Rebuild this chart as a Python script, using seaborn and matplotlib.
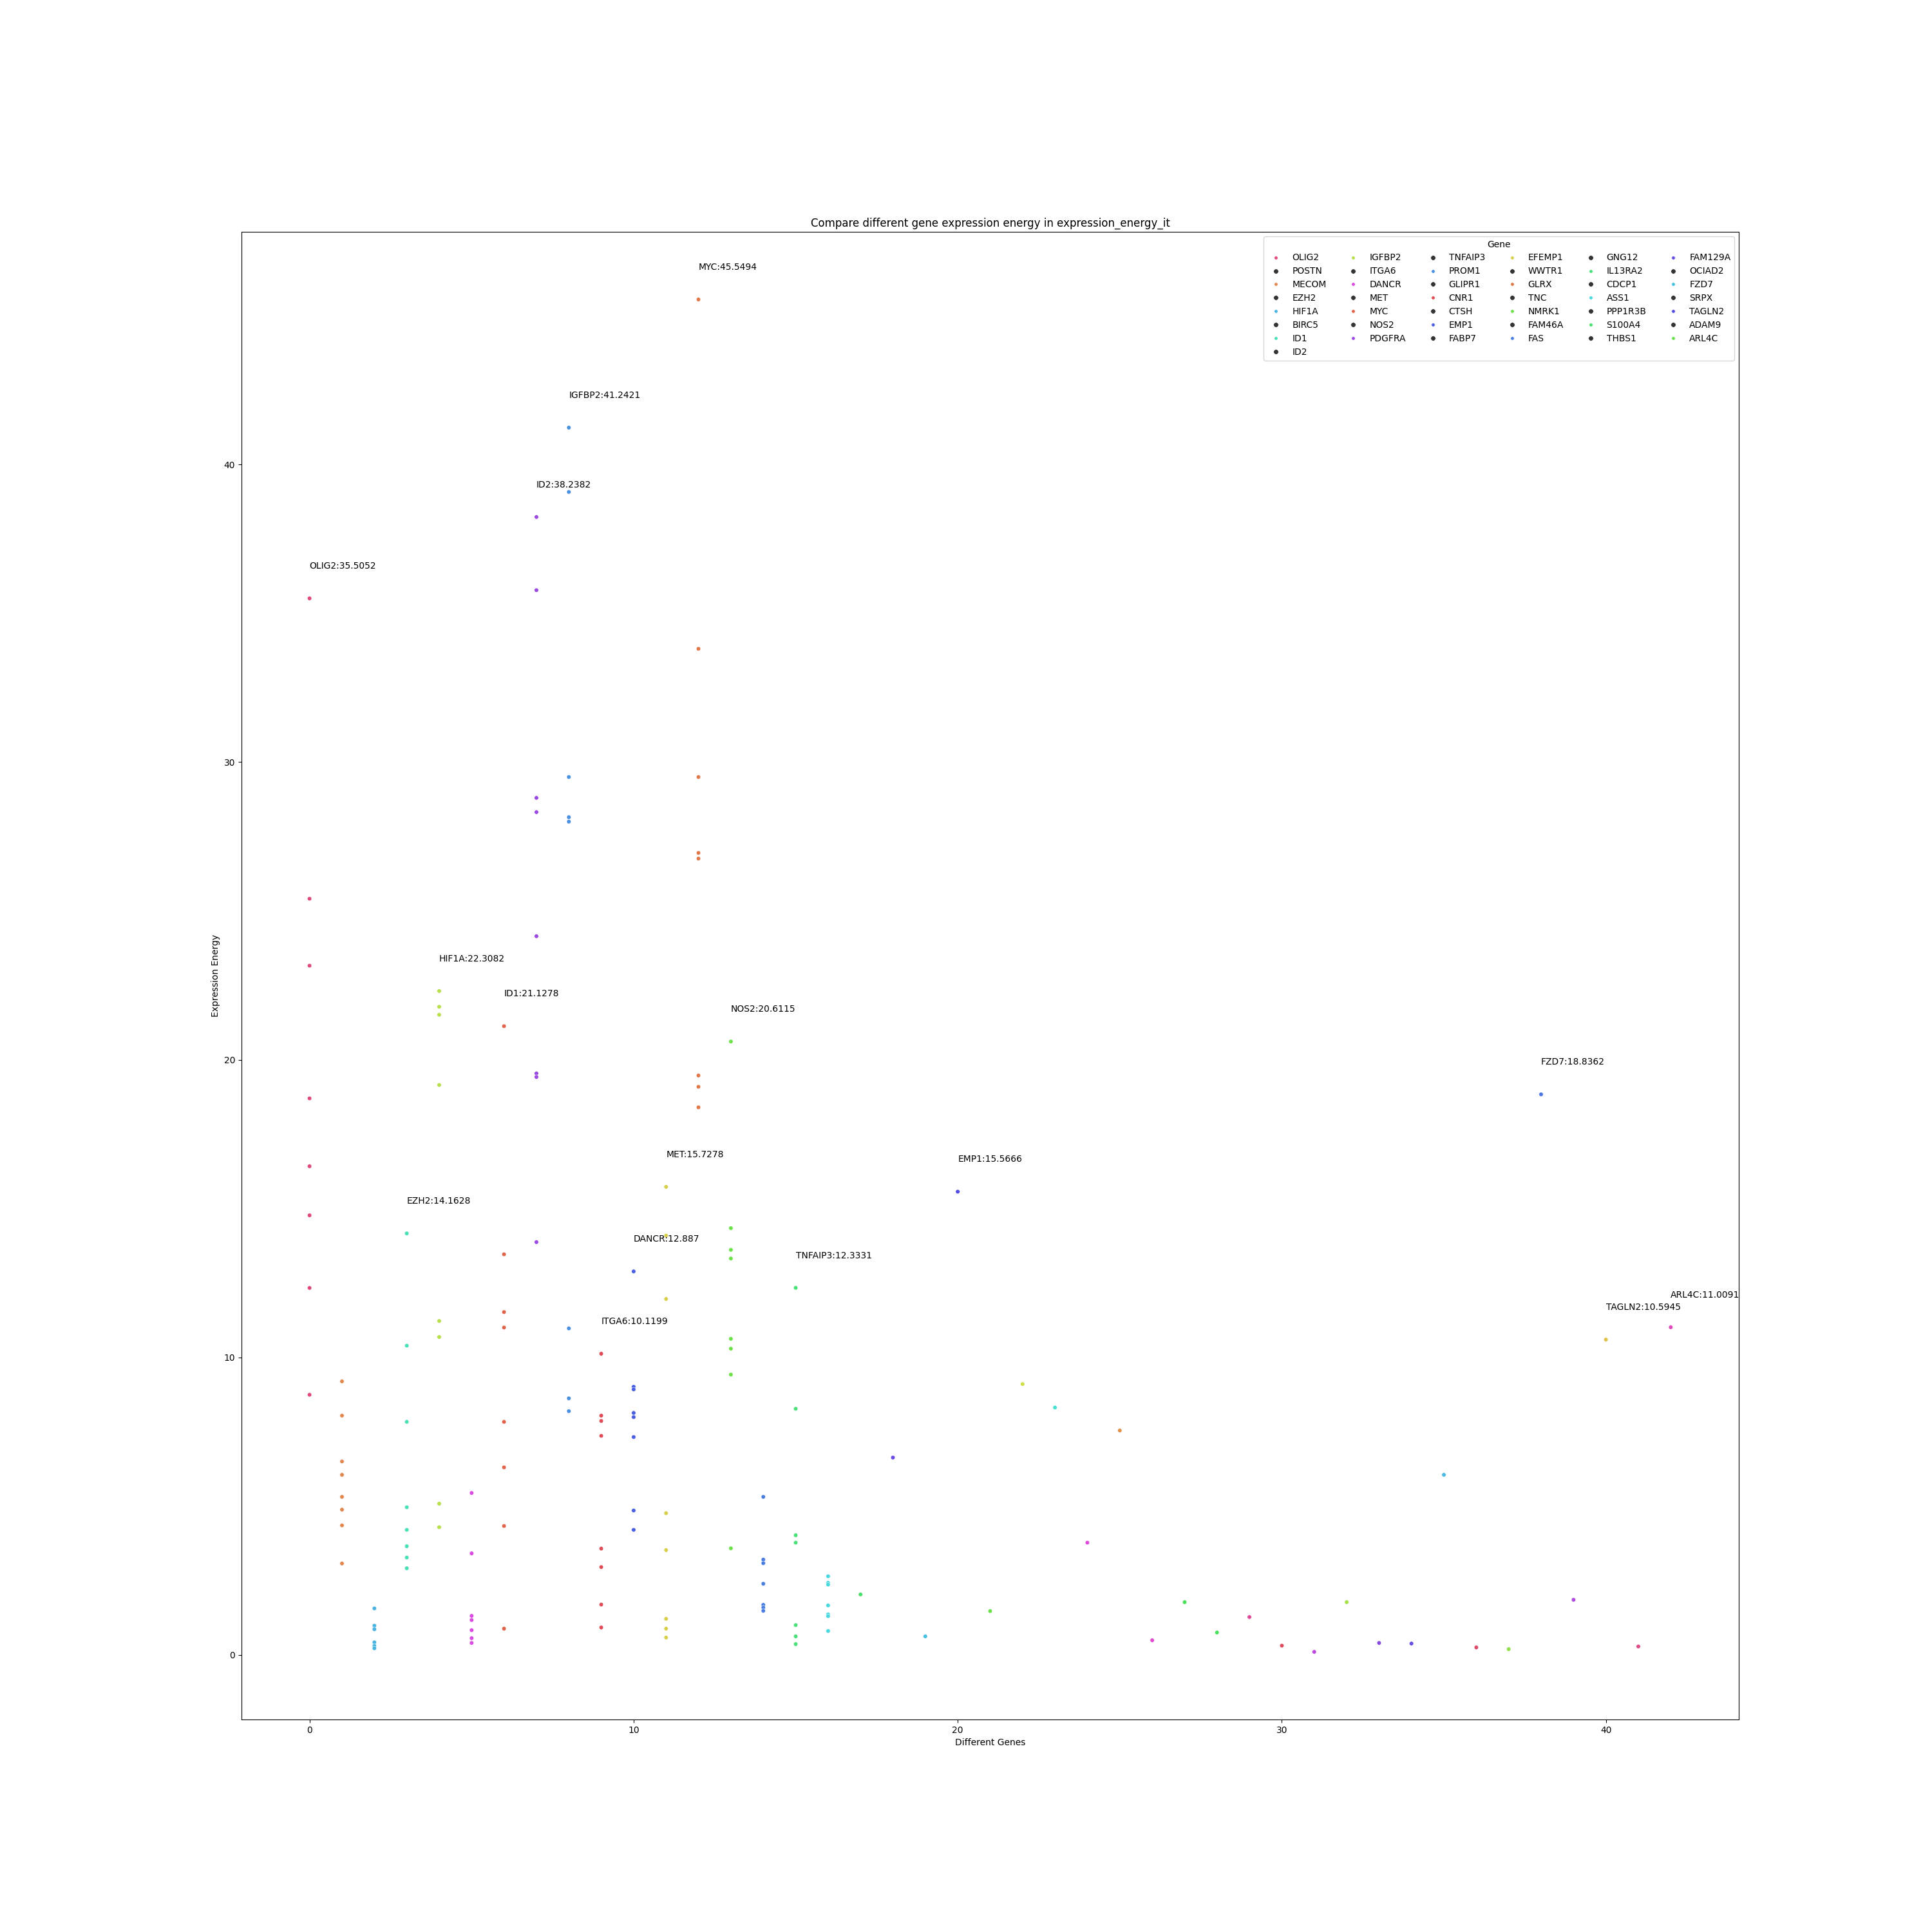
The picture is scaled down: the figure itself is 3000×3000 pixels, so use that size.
import matplotlib
matplotlib.use("Agg")
import matplotlib.pyplot as plt
import numpy as np
import pandas as pd
import seaborn as sns
from matplotlib.lines import Line2D

# gene order on the x axis
genes = ["OLIG2", "POSTN", "MECOM", "EZH2", "HIF1A", "BIRC5", "ID1", "ID2",
         "IGFBP2", "ITGA6", "DANCR", "MET", "MYC", "NOS2", "PDGFRA", "TNFAIP3",
         "PROM1", "GLIPR1", "CNR1", "CTSH", "EMP1", "FABP7", "EFEMP1", "WWTR1",
         "GLRX", "TNC", "NMRK1", "FAM46A", "FAS", "GNG12", "IL13RA2", "CDCP1",
         "ASS1", "PPP1R3B", "S100A4", "THBS1", "FAM129A", "OCIAD2", "FZD7",
         "SRPX", "TAGLN2", "ADAM9", "ARL4C"]

# expression energy per gene (several samples for the first genes)
olig2 = [35.5052, 25.41, 23.16, 18.70, 16.42, 14.77, 12.33, 8.74]
postn = [9.19, 8.04, 6.50, 6.05, 5.31, 4.88, 4.35, 3.07]
mecom = [1.56, 0.98, 0.86, 0.42, 0.30, 0.22]
ezh2 = [14.1628, 10.39, 7.83, 4.96, 4.20, 3.65, 3.27, 2.91]
hif1a = [22.3082, 21.78, 21.51, 19.15, 11.22, 10.68, 5.08, 4.29]
birc5 = [5.44, 3.41, 1.31, 1.17, 0.83, 0.56, 0.40]
id1 = [21.1278, 13.46, 11.52, 11.00, 7.83, 6.30, 4.33, 0.88]
id2 = [38.2382, 35.78, 28.80, 28.32, 24.15, 19.54, 19.42, 13.87]
igfbp2 = [41.2421, 39.08, 29.50, 28.15, 28.00, 10.97, 8.62, 8.19]
itga6 = [10.1199, 8.04, 7.86, 7.36, 3.57, 2.95, 1.69, 0.92]
dancr = [12.887, 9.01, 8.92, 8.13, 7.99, 7.32, 4.85, 4.20]
met = [15.7278, 14.09, 11.96, 4.76, 3.52, 1.21, 0.88, 0.58]
myc = [45.5494, 33.81, 29.50, 26.95, 26.76, 19.47, 19.09, 18.40]
nos2 = [20.6115, 14.34, 13.61, 13.32, 10.62, 10.29, 9.42, 3.58]
pdgfra = [5.31, 3.20, 3.08, 2.39, 1.68, 1.59, 1.48]
tnfaip3 = [12.3331, 8.27, 4.02, 3.77, 1.00, 0.62, 0.36]
prom1 = [2.64, 2.42, 2.36, 1.66, 1.36, 1.30, 0.80]

# one sample each for GLIPR1 .. ARL4C
single_values = [2.03, 6.63, 0.62, 15.5666, 1.47, 9.10, 8.31, 3.77, 7.54,
                 0.49, 1.77, 0.75, 1.27, 0.31, 0.10, 1.77, 0.40, 0.38, 6.05,
                 0.25, 0.19, 18.8362, 1.85, 10.5945, 0.28, 11.0091]

multi_values = [olig2, postn, mecom, ezh2, hif1a, birc5, id1, id2, igfbp2,
                itga6, dancr, met, myc, nos2, pdgfra, tnfaip3, prom1]

gene_colors = ["#e04a7a", "#e0884f", "#4ab4e0", "#4ae0b8", "#b8e04a", "#d84ae0",
               "#e0634a", "#9a4ae0", "#4a90e0", "#e04a55", "#4a5ee0", "#d8d04a",
               "#e0784a", "#6ee04a", "#4a7ee0", "#4ae07a", "#4ad8e0", "#4ae06a",
               "#6a4ae0", "#4ac0e0", "#524ae0", "#6ae04a", "#d0e04a", "#4ae0d0",
               "#e04ad8", "#e0944a", "#e04ad0", "#4ae05a", "#4ae060", "#e04a9a",
               "#e04a5a", "#c04ae0", "#a8e04a", "#844ae0", "#6a4ae0", "#4ab8e0",
               "#e04a6a", "#90e04a", "#4a78e0", "#b04ae0", "#e0c04a", "#e04a8a",
               "#e04ab8"]

rows = []
for i, vals in enumerate(multi_values):
    for v in vals:
        rows.append((genes[i], i, v))
for j, v in enumerate(single_values):
    i = len(multi_values) + j
    rows.append((genes[i], i, v))
df = pd.DataFrame(rows, columns=["Gene", "Index", "Energy"])

palette = dict(zip(genes, gene_colors))

fig, ax = plt.subplots(figsize=(30, 30), dpi=100)
sns.scatterplot(data=df, x="Index", y="Energy", hue="Gene", palette=palette,
                s=22, legend=False, ax=ax)

# label the top value of genes that reach above 10
for i, g in enumerate(genes):
    top = df.loc[df["Gene"] == g, "Energy"].max()
    if top > 10:
        ax.text(i, top + 1, "{}:{}".format(g, round(top, 4)))

# legend: colored handles alternate with dark ones, as in the original
handles = []
for k in range(len(genes)):
    if k % 2 == 0:
        handles.append(Line2D([], [], marker="o", linestyle="", markersize=4,
                              color=gene_colors[k // 2], markeredgecolor="white",
                              markeredgewidth=0.5))
    else:
        handles.append(Line2D([], [], marker="o", linestyle="", markersize=5.5,
                              color="#333333", markeredgecolor="white",
                              markeredgewidth=0.5))
ax.legend(handles, genes, title="Gene", ncol=6, loc="upper right")

ax.set_title("Compare different gene expression energy in expression_energy_it")
ax.set_xlabel("Different Genes")
ax.set_ylabel("Expression Energy")

plt.savefig("out.png", dpi=100)
